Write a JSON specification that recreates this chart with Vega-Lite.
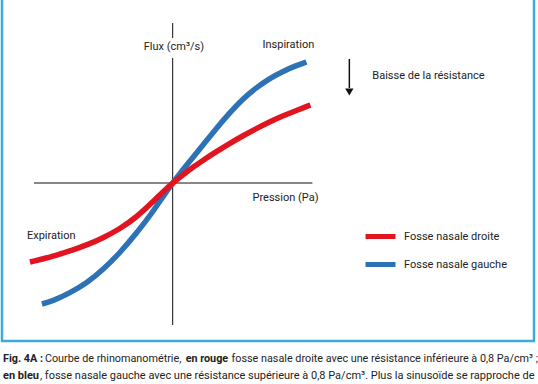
{
  "$schema": "https://vega.github.io/schema/vega-lite/v6.json",
  "width": 538,
  "height": 384,
  "padding": 0,
  "autosize": {"type": "fit", "contains": "padding"},
  "background": "white",
  "config": {"view": {"stroke": null}, "font": "Roboto"},
  "datasets": {
    "frame": [{"x1": -171, "x2": 362, "y1": 195, "y2": -158}],
    "axes": [
      {"x1": -139, "y1": 0, "x2": 140, "y2": 0},
      {"x1": 0, "y1": 160, "x2": 0, "y2": 145},
      {"x1": 0, "y1": 125, "x2": 0, "y2": -142}
    ],
    "arrow": [{"x1": 177, "y1": 124, "x2": 177, "y2": 95}],
    "arrowhead": [{"x": 177, "y": 91}],
    "curves": [
      {"serie": "Fosse nasale droite", "p": -143, "f": -79},
      {"serie": "Fosse nasale droite", "p": -126, "f": -75},
      {"serie": "Fosse nasale droite", "p": -113, "f": -71},
      {"serie": "Fosse nasale droite", "p": -100, "f": -67},
      {"serie": "Fosse nasale droite", "p": -86, "f": -62},
      {"serie": "Fosse nasale droite", "p": -70, "f": -55},
      {"serie": "Fosse nasale droite", "p": -53, "f": -46},
      {"serie": "Fosse nasale droite", "p": -36, "f": -34},
      {"serie": "Fosse nasale droite", "p": -20, "f": -19},
      {"serie": "Fosse nasale droite", "p": -10, "f": -9},
      {"serie": "Fosse nasale droite", "p": 0, "f": 0},
      {"serie": "Fosse nasale droite", "p": 10, "f": 8},
      {"serie": "Fosse nasale droite", "p": 20, "f": 15.5},
      {"serie": "Fosse nasale droite", "p": 30, "f": 22.5},
      {"serie": "Fosse nasale droite", "p": 44, "f": 31.5},
      {"serie": "Fosse nasale droite", "p": 57, "f": 39.5},
      {"serie": "Fosse nasale droite", "p": 70, "f": 47},
      {"serie": "Fosse nasale droite", "p": 84, "f": 54.5},
      {"serie": "Fosse nasale droite", "p": 97, "f": 61},
      {"serie": "Fosse nasale droite", "p": 110, "f": 67},
      {"serie": "Fosse nasale droite", "p": 124, "f": 72.5},
      {"serie": "Fosse nasale droite", "p": 138, "f": 78},
      {"serie": "Fosse nasale gauche", "p": -131, "f": -121},
      {"serie": "Fosse nasale gauche", "p": -120, "f": -118},
      {"serie": "Fosse nasale gauche", "p": -103, "f": -110},
      {"serie": "Fosse nasale gauche", "p": -86, "f": -100},
      {"serie": "Fosse nasale gauche", "p": -70, "f": -87},
      {"serie": "Fosse nasale gauche", "p": -53, "f": -70},
      {"serie": "Fosse nasale gauche", "p": -36, "f": -50},
      {"serie": "Fosse nasale gauche", "p": -20, "f": -29},
      {"serie": "Fosse nasale gauche", "p": -10, "f": -14},
      {"serie": "Fosse nasale gauche", "p": 0, "f": 0},
      {"serie": "Fosse nasale gauche", "p": 10, "f": 13},
      {"serie": "Fosse nasale gauche", "p": 17, "f": 21.5},
      {"serie": "Fosse nasale gauche", "p": 30, "f": 37.5},
      {"serie": "Fosse nasale gauche", "p": 44, "f": 55},
      {"serie": "Fosse nasale gauche", "p": 57, "f": 70},
      {"serie": "Fosse nasale gauche", "p": 70, "f": 84},
      {"serie": "Fosse nasale gauche", "p": 84, "f": 95.5},
      {"serie": "Fosse nasale gauche", "p": 97, "f": 104.5},
      {"serie": "Fosse nasale gauche", "p": 110, "f": 111.5},
      {"serie": "Fosse nasale gauche", "p": 124, "f": 117.5},
      {"serie": "Fosse nasale gauche", "p": 134, "f": 121}
    ],
    "labels": [
      {"text": "Flux (cm³/s)", "x": -29, "y": 136},
      {"text": "Inspiration", "x": 90, "y": 138},
      {"text": "Baisse de la résistance", "x": 200, "y": 107},
      {"text": "Pression (Pa)", "x": 80, "y": -15},
      {"text": "Expiration", "x": -146, "y": -53}
    ],
    "caption1": [
      {"text": "Fig. 4A :", "x": -170, "y": -176, "part": "bold"},
      {"text": "Courbe de rhinomanométrie,", "x": -128, "y": -176, "part": "regular"},
      {"text": "en rouge", "x": 13, "y": -176, "part": "bold"},
      {"text": "fosse nasale droite avec une résistance inférieure à 0,8 Pa/cm³ ;", "x": 59, "y": -176, "part": "regular"}
    ],
    "caption2": [
      {"text": "en bleu", "x": -170, "y": -193, "part": "bold"},
      {"text": ", fosse nasale gauche avec une résistance supérieure à 0,8 Pa/cm³. Plus la sinusoïde se rapproche de", "x": -133, "y": -193, "part": "regular"}
    ]
  },
  "layer": [
    {
      "data": {"name": "frame"},
      "mark": {"type": "rect", "filled": false, "stroke": "#3aacdb", "strokeWidth": 2.5, "clip": true},
      "encoding": {
        "x": {"field": "x1", "type": "quantitative", "scale": {"domain": [-173, 365], "nice": false, "zero": false}, "axis": null},
        "x2": {"field": "x2"},
        "y": {"field": "y1", "type": "quantitative", "scale": {"domain": [-201, 183], "nice": false, "zero": false}, "axis": null},
        "y2": {"field": "y2"}
      }
    },
    {
      "data": {"name": "axes"},
      "mark": {"type": "rule", "color": "#111", "strokeWidth": 1},
      "encoding": {
        "x": {"field": "x1", "type": "quantitative"},
        "x2": {"field": "x2"},
        "y": {"field": "y1", "type": "quantitative"},
        "y2": {"field": "y2"}
      }
    },
    {
      "data": {"name": "arrow"},
      "mark": {"type": "rule", "color": "#111", "strokeWidth": 1.5},
      "encoding": {
        "x": {"field": "x1", "type": "quantitative"},
        "x2": {"field": "x2"},
        "y": {"field": "y1", "type": "quantitative"},
        "y2": {"field": "y2"}
      }
    },
    {
      "data": {"name": "arrowhead"},
      "mark": {"type": "point", "shape": "triangle-down", "filled": true, "color": "#111", "size": 70, "opacity": 1},
      "encoding": {
        "x": {"field": "x", "type": "quantitative"},
        "y": {"field": "y", "type": "quantitative"}
      }
    },
    {
      "data": {"name": "curves"},
      "transform": [{"filter": "datum.serie === 'Fosse nasale gauche'"}],
      "mark": {"type": "line", "strokeWidth": 5.5, "interpolate": "basis", "strokeCap": "butt"},
      "encoding": {
        "x": {"field": "p", "type": "quantitative"},
        "y": {"field": "f", "type": "quantitative"},
        "color": {
          "field": "serie", "type": "nominal",
          "scale": {"domain": ["Fosse nasale droite", "Fosse nasale gauche"], "range": ["#e1141f", "#2e72b6"]},
          "legend": {
            "title": null, "orient": "none", "legendX": 363, "legendY": 219,
            "symbolType": "stroke", "symbolSize": 900, "symbolStrokeWidth": 5,
            "labelFontSize": 11, "labelColor": "#222", "labelOffset": 6, "rowPadding": -14,
            "labelFont": "Roboto"
          }
        }
      }
    },
    {
      "data": {"name": "curves"},
      "transform": [{"filter": "datum.serie === 'Fosse nasale droite'"}],
      "mark": {"type": "line", "strokeWidth": 5.5, "interpolate": "basis", "strokeCap": "butt"},
      "encoding": {
        "x": {"field": "p", "type": "quantitative"},
        "y": {"field": "f", "type": "quantitative"},
        "color": {"field": "serie", "type": "nominal"}
      }
    },
    {
      "data": {"name": "labels"},
      "mark": {"type": "text", "align": "left", "baseline": "middle", "fontSize": 11, "color": "#222", "font": "Roboto"},
      "encoding": {
        "x": {"field": "x", "type": "quantitative"},
        "y": {"field": "y", "type": "quantitative"},
        "text": {"field": "text"}
      }
    },
    {
      "data": {"name": "caption1"},
      "transform": [{"filter": "datum.part === 'regular'"}],
      "mark": {"type": "text", "align": "left", "baseline": "middle", "fontSize": 10.8, "color": "#222", "font": "Roboto"},
      "encoding": {
        "x": {"field": "x", "type": "quantitative"},
        "y": {"field": "y", "type": "quantitative"},
        "text": {"field": "text"}
      }
    },
    {
      "data": {"name": "caption1"},
      "transform": [{"filter": "datum.part === 'bold'"}],
      "mark": {"type": "text", "align": "left", "baseline": "middle", "fontSize": 10.8, "fontWeight": "bold", "color": "#222", "font": "Roboto"},
      "encoding": {
        "x": {"field": "x", "type": "quantitative"},
        "y": {"field": "y", "type": "quantitative"},
        "text": {"field": "text"}
      }
    },
    {
      "data": {"name": "caption2"},
      "transform": [{"filter": "datum.part === 'regular'"}],
      "mark": {"type": "text", "align": "left", "baseline": "middle", "fontSize": 11, "color": "#222", "font": "Roboto"},
      "encoding": {
        "x": {"field": "x", "type": "quantitative"},
        "y": {"field": "y", "type": "quantitative"},
        "text": {"field": "text"}
      }
    },
    {
      "data": {"name": "caption2"},
      "transform": [{"filter": "datum.part === 'bold'"}],
      "mark": {"type": "text", "align": "left", "baseline": "middle", "fontSize": 11, "fontWeight": "bold", "color": "#222", "font": "Roboto"},
      "encoding": {
        "x": {"field": "x", "type": "quantitative"},
        "y": {"field": "y", "type": "quantitative"},
        "text": {"field": "text"}
      }
    }
  ]
}
